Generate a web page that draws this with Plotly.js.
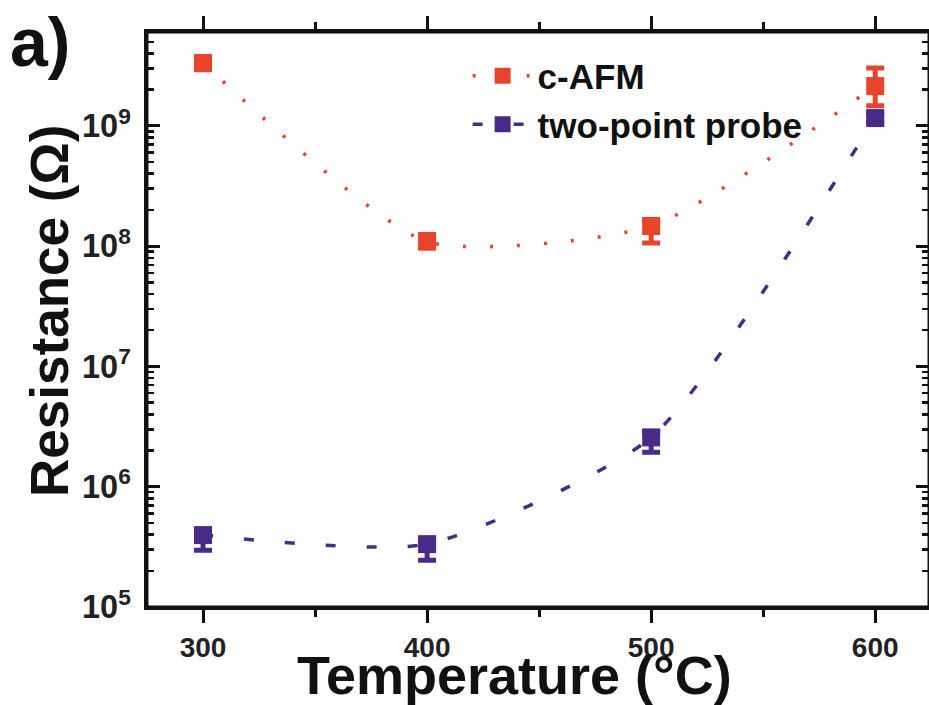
<!DOCTYPE html>
<html>
<head>
<meta charset="utf-8">
<script src="https://cdn.plot.ly/plotly-3.0.1.min.js"></script>
<style>html,body{margin:0;padding:0;background:#fff;}#chart{width:929px;height:705px;}</style>
</head>
<body>
<div id="chart"></div>
<script>
// Data
const temps = [300, 400, 500, 600];
const cafm = [3.33e9, 1.09e8, 1.47e8, 2.14e9];
const cafmPlus = [0.27e9, 0.16e8, 0.15e8, 0.89e9];
const cafmMinus = [0.40e9, 0.12e8, 0.41e8, 0.67e9];
const tpp = [3.96e5, 3.33e5, 2.57e6, 1.16e9];
const tppPlus = [0.30e5, 0.20e5, 0.30e6, 0.10e9];
const tppMinus = [0.99e5, 0.88e5, 0.64e6, 0.10e9];
const seriesNames = ['c-AFM', 'two-point probe'];
const xTitle = 'Temperature (°C)';
const yTitle = 'Resistance (Ω)';
const panelLabel = 'a)';

const red = '#E8432B';
const purple = '#4A2A88';
const ink = '#111111';
const fam = 'Liberation Sans, Arial, Helvetica, sans-serif';

const traces = [
  {
    x: temps, y: cafm, name: seriesNames[0], type: 'scatter', mode: 'lines+markers',
    line: {color: red, width: 3.5, dash: '3px,24px', shape: 'spline', smoothing: 0.6},
    marker: {symbol: 'square', size: 18, color: red},
    error_y: {type: 'data', array: cafmPlus, arrayminus: cafmMinus, visible: true,
              color: red, thickness: 5, width: 9}
  },
  {
    x: temps, y: tpp, name: seriesNames[1], type: 'scatter', mode: 'lines+markers',
    line: {color: purple, width: 3.5, dash: '10px,31px', shape: 'spline', smoothing: 0.6},
    marker: {symbol: 'square', size: 18, color: purple},
    error_y: {type: 'data', array: tppPlus, arrayminus: tppMinus, visible: true,
              color: purple, thickness: 5, width: 9}
  }
];

const xr = [275, 624];
const layout = {
  width: 929, height: 705,
  margin: {l: 147, r: 0, t: 32, b: 98},
  paper_bgcolor: '#fff', plot_bgcolor: '#fff',
  font: {family: fam, color: ink},
  showlegend: true,
  legend: {
    x: 0.41, y: 0.975, xanchor: 'left', yanchor: 'top',
    bgcolor: 'rgba(0,0,0,0)', borderwidth: 0,
    font: {family: fam, size: 35, weight: 'bold', color: ink},
    itemwidth: 60, tracegroupgap: 0
  },
  xaxis: {
    range: xr, showgrid: false, zeroline: false,
    showline: true, mirror: 'ticks', linecolor: ink, linewidth: 3,
    ticks: 'outside', ticklen: 13, tickwidth: 3, tickcolor: ink,
    tickvals: temps, ticktext: temps.map(String),
    tickfont: {family: fam, size: 28, weight: 'bold', color: '#222'},
    minor: {dtick: 50, tick0: 300, ticks: 'outside', ticklen: 7, tickwidth: 3, tickcolor: ink, showgrid: false}
  },
  yaxis: {
    type: 'log', range: [5, 9.78], showgrid: false, zeroline: false,
    showline: true, linecolor: ink, linewidth: 3, mirror: 'ticks',
    ticks: 'inside', ticklen: 13, tickwidth: 3, tickcolor: ink,
    dtick: 1, exponentformat: 'power',
    ticklabelstandoff: 8,
    tickfont: {family: fam, size: 26, weight: 'bold', color: '#222'},
    minor: {dtick: 'D1', ticks: 'inside', ticklen: 7, tickwidth: 2.5, tickcolor: ink, showgrid: false}
  },
  shapes: [
    // plot frame
    {type: 'rect', xref: 'paper', yref: 'paper', x0: 0, x1: 1, y0: 0, y1: 1,
     line: {color: ink, width: 3}, fillcolor: 'rgba(0,0,0,0)', layer: 'above'}
  ],
  annotations: [
    {text: xTitle, xref: 'paper', yref: 'paper', x: 0.47, y: -0.118, xanchor: 'center', yanchor: 'middle',
     showarrow: false, font: {family: fam, size: 54, weight: 'bold', color: ink}},
    {text: yTitle, xref: 'paper', yref: 'paper', x: -0.124, y: 0.515, xanchor: 'center', yanchor: 'middle',
     textangle: -90, showarrow: false, font: {family: fam, size: 53, weight: 'bold', color: ink}},
    {text: panelLabel, xref: 'paper', yref: 'paper', x: -0.178, y: 1.052, xanchor: 'left', yanchor: 'top',
     showarrow: false, font: {family: fam, size: 68, weight: 'bold', color: ink}}
  ]
};

Plotly.newPlot('chart', traces, layout, {displayModeBar: false, staticPlot: true});
</script>
</body>
</html>
